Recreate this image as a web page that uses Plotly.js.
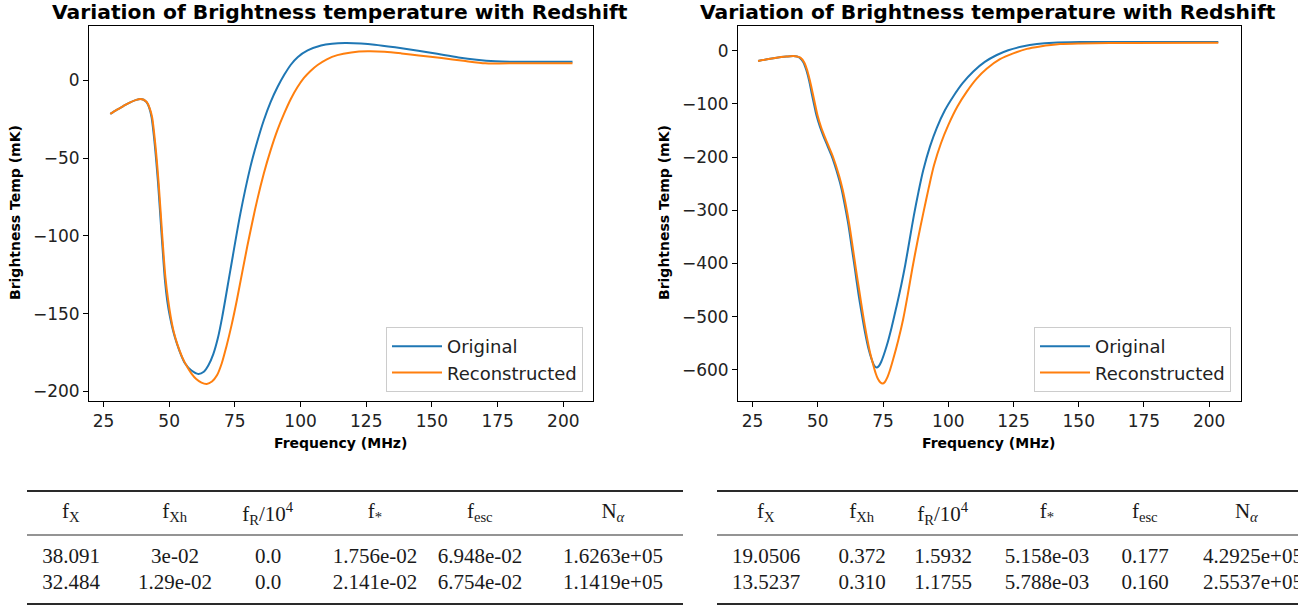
<!DOCTYPE html>
<html>
<head>
<meta charset="utf-8">
<script src="https://cdn.plot.ly/plotly-3.0.1.min.js"></script>
<style>
  html, body { margin: 0; padding: 0; background: #ffffff; }
  #chart { width: 1298px; height: 608px; }
</style>
</head>
<body>
<div id="chart"></div>
<script>
// ---------------- DATA ----------------
// Left panel: frequency (MHz) and brightness temperature (mK)
const freqLeftOriginal = [27.6, 30, 32.4, 35, 37.5, 39, 40.3, 41.4, 42.4, 43.3, 44.5, 45.8, 47.1, 48.4, 49.3, 50.3, 51.5, 52.9, 54.4, 56.0, 58.5, 61.1, 63.2, 65.0, 66.8, 68.5, 70.2, 73.3, 77.1, 80.9, 83.5, 86.0, 88.6, 91.2, 93.8, 96.3, 99, 102.7, 107.8, 112, 117, 123, 128.2, 136, 144.8, 152, 160.1, 167, 174.2, 180, 189.5, 203.5];
const tbLeftOriginal   = [-21.6, -19, -16.7, -14.3, -12.6, -12.0, -12.5, -14.1, -17.5, -23.7, -40.8, -66.5, -98.5, -128.4, -142, -151.9, -161, -169, -176, -181.8, -186.5, -188.7, -187.3, -183, -176, -166, -152, -122, -85.7, -55.8, -39.5, -25.8, -14, -4.5, 3.5, 10, 15, 19.2, 22.4, 23.5, 23.9, 23.6, 22.9, 21.2, 19.0, 17, 14.7, 13.2, 12.2, 11.9, 12.0, 11.9];

const freqLeftRecon = [27.6, 30, 32.4, 35, 37.5, 39, 40.3, 41.5, 42.6, 43.5, 44.7, 46.0, 47.3, 48.6, 49.6, 50.6, 51.8, 53.2, 55, 56.8, 58.5, 60.3, 62.3, 64.3, 66.3, 68.2, 70.0, 71.8, 73.8, 75.8, 79.7, 83.5, 86, 88.6, 91.2, 93.7, 96.3, 98.8, 101.3, 103.8, 106.5, 110, 114, 119.3, 125.6, 132, 138.4, 145, 153.7, 162, 170.3, 175, 183.1, 190, 203.5];
const tbLeftRecon   = [-21.6, -19, -16.7, -14.3, -12.6, -12.0, -12.5, -14.1, -18, -23.5, -40.5, -66, -98, -127, -141, -152, -162, -170, -178, -184, -188.5, -192, -194.3, -195.1, -193.6, -189.6, -182, -171, -157, -141, -107, -77, -60, -45, -32, -21.6, -12, -4.5, 1.5, 6, 9.8, 13.5, 16.2, 17.9, 18.6, 18.3, 17.3, 16, 14.3, 12.5, 10.9, 10.8, 11.0, 11.0, 10.9];

// Right panel
const freqRightOriginal = [27.1, 30.5, 34.2, 38, 40.6, 42, 43.1, 44.5, 45.7, 46.7, 47.6, 48.6, 49.5, 50.8, 52.1, 53.7, 55.3, 57.8, 59.1, 60.4, 61.7, 62.9, 64.2, 65.5, 66.8, 68.1, 69.4, 70.6, 71.6, 72.5, 73.4, 74.3, 76.4, 78.3, 80.2, 82, 83.5, 85.2, 86.8, 88.6, 90.4, 93, 95.6, 98.7, 101.9, 105.5, 109.6, 114, 118.6, 123, 128.8, 134, 140.3, 150.5, 165, 185, 203.5];
const tbRightOriginal   = [-19.4, -16, -13.1, -11, -10, -11, -13.5, -22, -38, -57, -79, -102, -122, -143, -160, -179, -198, -236, -260, -292, -327, -367, -410, -455, -494, -530, -560, -580, -592, -596, -593, -585, -555, -520, -480, -440, -403, -355, -310, -265, -225, -180, -145, -112, -86, -61, -39, -21, -8, 1, 8.5, 12.5, 15, 16.2, 16.5, 16.5, 16.4];

const freqRightRecon = [27.1, 30.5, 34.2, 38, 40.6, 42, 43.3, 44.8, 46.0, 47.0, 48.0, 49.0, 49.9, 51.2, 52.5, 54.1, 55.7, 58.2, 59.5, 60.8, 62.1, 63.3, 64.6, 66.0, 67.3, 68.6, 69.9, 71.2, 72.2, 73.0, 74.0, 74.8, 75.7, 76.6, 77.7, 78.9, 80.8, 82.7, 84.5, 86.2, 88.3, 90.4, 92.5, 94.5, 97.2, 100, 103.5, 107.1, 110.8, 114.7, 119.8, 124.9, 130.1, 135.2, 142.8, 150.5, 170, 203.5];
const tbRightRecon   = [-19.4, -16, -13.1, -11, -10, -10.8, -13, -22, -38, -57, -79, -102, -122, -143, -160, -179, -198, -236, -261, -292, -328, -367, -411, -455, -496, -533, -565, -590, -607, -617, -624, -626, -623, -615, -600, -580, -545, -505, -458, -410, -356, -306, -258, -216, -174, -140, -105, -77, -53, -34, -16, -5, 3.5, 8, 12.5, 13.8, 14.5, 15];

const seriesNames = ['Original', 'Reconstructed'];
const xTicks = [25, 50, 75, 100, 125, 150, 175, 200];

// Tables
const tableHeaders = ['f<sub>X</sub>', 'f<sub>Xh</sub>', 'f<sub>R</sub>/10<sup>4</sup>', 'f<sub>*</sub>', 'f<sub>esc</sub>', 'N<sub><i>α</i></sub>'];
const leftTableRow1  = ['38.091', '3e-02', '0.0', '1.756e-02', '6.948e-02', '1.6263e+05'];
const leftTableRow2  = ['32.484', '1.29e-02', '0.0', '2.141e-02', '6.754e-02', '1.1419e+05'];
const rightTableRow1 = ['19.0506', '0.372', '1.5932', '5.158e-03', '0.177', '4.2925e+05'];
const rightTableRow2 = ['13.5237', '0.310', '1.1755', '5.788e-03', '0.160', '2.5537e+05'];

const chartTitle = 'Variation of Brightness temperature with Redshift';
const xTitle = 'Frequency (MHz)';
const yTitle = 'Brightness Temp (mK)';

// ---------------- LAYOUT HELPERS ----------------
const W = 1298, H = 608;
const px = v => v / W;
const py = v => 1 - v / H;

const BLUE = '#1f77b4', ORANGE = '#ff7f0e';
const SANS = 'DejaVu Sans';
const SERIF = 'Liberation Serif, Times New Roman, serif';

function lineTrace(x, y, name, color, xa, ya, leg, grp) {
  return {
    type: 'scatter', mode: 'lines', x: x, y: y, name: name,
    xaxis: xa, yaxis: ya, legend: leg, legendgroup: grp,
    line: { color: color, width: 2, shape: 'spline', smoothing: 0.8 },
    hoverinfo: 'skip'
  };
}

function toColumns(r1, r2) { return r1.map((v, i) => [v, r2[i]]); }

const tableFont = { family: SERIF, size: 21, color: '#1a1a1a' };
const noFill = { color: 'rgba(0,0,0,0)' };
const noLine = { width: 0, color: 'rgba(0,0,0,0)' };

const traces = [
  lineTrace(freqLeftOriginal, tbLeftOriginal, seriesNames[0], BLUE, 'x', 'y', 'legend', 'a'),
  lineTrace(freqLeftRecon, tbLeftRecon, seriesNames[1], ORANGE, 'x', 'y', 'legend', 'b'),
  lineTrace(freqRightOriginal, tbRightOriginal, seriesNames[0], BLUE, 'x2', 'y2', 'legend2', 'c'),
  lineTrace(freqRightRecon, tbRightRecon, seriesNames[1], ORANGE, 'x2', 'y2', 'legend2', 'd'),
  {
    type: 'table',
    domain: { x: [px(6), px(694)], y: [py(600), py(491)] },
    columnwidth: [130, 78, 108, 106, 104, 162],
    header: { values: tableHeaders, height: 48, align: 'center', font: tableFont, fill: noFill, line: noLine },
    cells: { values: toColumns(leftTableRow1, leftTableRow2), height: 26, align: 'center', font: tableFont, fill: noFill, line: noLine }
  },
  {
    type: 'table',
    domain: { x: [px(695), 1], y: [py(600), py(491)] },
    columnwidth: [142, 50, 112, 96, 100, 103],
    header: { values: tableHeaders, height: 48, align: 'center', font: tableFont, fill: noFill, line: noLine },
    cells: {
      values: toColumns(rightTableRow1, rightTableRow2), height: 26,
      align: ['center', 'center', 'center', 'center', 'center', 'left'],
      font: tableFont, fill: noFill, line: noLine
    }
  }
];

function axisX(domain, range, anchor) {
  return {
    domain: domain, range: range, anchor: anchor,
    tickmode: 'array', tickvals: xTicks, ticks: 'outside', ticklen: 5, tickwidth: 1, tickcolor: '#000',
    showline: true, mirror: true, linecolor: '#000', linewidth: 1,
    showgrid: false, zeroline: false,
    tickfont: { family: SANS, size: 17, color: '#222' }
  };
}
function axisY(domain, range, dtick, anchor) {
  return {
    domain: domain, range: range, anchor: anchor,
    tick0: 0, dtick: dtick, ticks: 'outside', ticklen: 5, tickwidth: 1, tickcolor: '#000',
    showline: true, mirror: true, linecolor: '#000', linewidth: 1,
    showgrid: false, zeroline: false,
    tickfont: { family: SANS, size: 17, color: '#222' }
  };
}

const yDom = [py(401), py(26)];

function textAnn(x, y, text, size, angle) {
  return {
    xref: 'paper', yref: 'paper', x: x, y: y, text: text, showarrow: false,
    xanchor: 'center', yanchor: 'middle', textangle: angle || 0,
    font: { family: SANS, size: size, color: '#000', weight: 'bold' }
  };
}

function rule(x0, x1, y, w) {
  return { type: 'line', xref: 'paper', yref: 'paper', x0: px(x0), x1: px(x1), y0: py(y), y1: py(y),
           line: { color: '#2a2a2a', width: w } };
}

const legendBase = {
  xanchor: 'right', yanchor: 'bottom',
  bgcolor: 'rgba(255,255,255,0.85)', bordercolor: '#cccccc', borderwidth: 1,
  tracegroupgap: 0, itemwidth: 50,
  font: { family: SANS, size: 18, color: '#222' }
};

const layout = {
  width: W, height: H,
  margin: { l: 0, r: 0, t: 0, b: 0 },
  paper_bgcolor: '#ffffff', plot_bgcolor: '#ffffff',
  showlegend: true,
  xaxis: axisX([px(89), px(593)], [19.5, 211.3], 'y'),
  yaxis: axisY(yDom, [-206.1, 34.9], 50, 'x'),
  xaxis2: axisX([px(738), px(1241)], [19.4, 212.2], 'y2'),
  yaxis2: axisY(yDom, [-658.8, 46.5], 100, 'x2'),
  legend: Object.assign({ x: px(583), y: py(392) }, legendBase),
  legend2: Object.assign({ x: px(1231), y: py(392) }, legendBase),
  annotations: [
    textAnn(px(340), py(12), chartTitle, 20.3),
    textAnn(px(988), py(12), chartTitle, 20.3),
    textAnn(px(340), py(443), xTitle, 14),
    textAnn(px(988), py(443), xTitle, 14),
    textAnn(px(15), py(213), yTitle, 14, -90),
    textAnn(px(664), py(213), yTitle, 14, -90)
  ],
  shapes: [
    rule(27, 683, 491, 2), rule(27, 683, 535, 1.2), rule(27, 683, 604, 2),
    rule(717, 1298, 491, 2), rule(717, 1298, 535, 1.2), rule(717, 1298, 604, 2)
  ]
};

Plotly.newPlot('chart', traces, layout, { displayModeBar: false, staticPlot: true });
</script>
</body>
</html>
